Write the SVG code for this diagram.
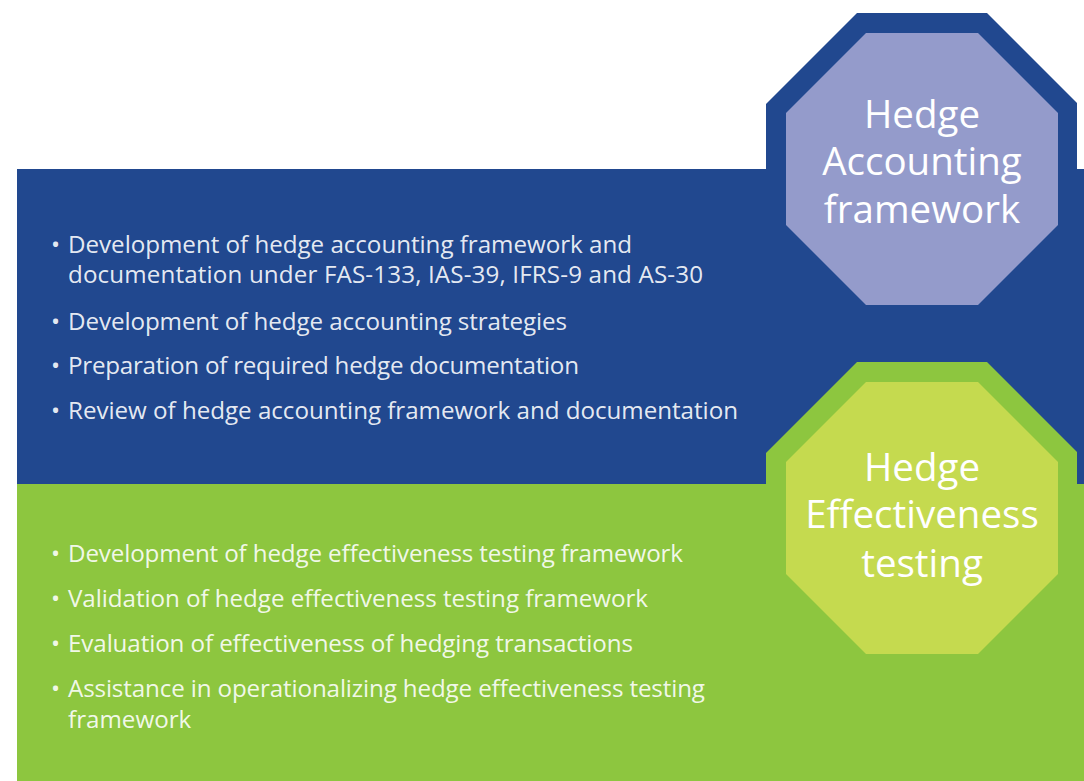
<svg xmlns="http://www.w3.org/2000/svg" width="1084" height="781" viewBox="0 0 1084 781">
  <style>
    .blue { fill: #21488F; }
    .green { fill: #8DC63F; }
    .purple { fill: #949BCB; }
    .lime { fill: #C5DA4F; }
    .item { font-family: "Open Sans", "Liberation Sans", sans-serif; font-size: 24.2px; fill: #FFFFFF; fill-opacity: 0.9; }
    .title { font-family: "Open Sans", "Liberation Sans", sans-serif; font-size: 38.5px; fill: #FFFFFF; text-anchor: middle; }
  </style>
  <rect x="0" y="0" width="1084" height="781" fill="#FFFFFF"/>

  <g id="band-accounting">
    <rect class="blue" x="17" y="169" width="1067" height="315"/>
    <polygon class="blue" points="857,13 987,13 1077,103 1077,300 766,300 766,104"/>
    <text class="item" x="51" y="252.7">•</text>
    <text class="item" x="68" y="252.7" textLength="564" lengthAdjust="spacing">Development of hedge accounting framework and</text>
    <text class="item" x="68" y="283.3" textLength="635" lengthAdjust="spacing">documentation under FAS-133, IAS-39, IFRS-9 and AS-30</text>
    <text class="item" x="51" y="330">•</text>
    <text class="item" x="68" y="330" textLength="499" lengthAdjust="spacing">Development of hedge accounting strategies</text>
    <text class="item" x="51" y="374">•</text>
    <text class="item" x="68" y="374" textLength="511" lengthAdjust="spacing">Preparation of required hedge documentation</text>
    <text class="item" x="51" y="419">•</text>
    <text class="item" x="68" y="419" textLength="670" lengthAdjust="spacing">Review of hedge accounting framework and documentation</text>
  </g>

  <g id="band-effectiveness">
    <rect class="green" x="17" y="484" width="1067" height="297"/>
    <polygon class="green" points="857,362 987,362 1077,452 1077,500 766,500 766,453"/>
    <text class="item" x="51" y="561.7">•</text>
    <text class="item" x="68" y="561.7" textLength="615" lengthAdjust="spacing">Development of hedge effectiveness testing framework</text>
    <text class="item" x="51" y="606.7">•</text>
    <text class="item" x="68" y="606.7" textLength="580" lengthAdjust="spacing">Validation of hedge effectiveness testing framework</text>
    <text class="item" x="51" y="651.7">•</text>
    <text class="item" x="68" y="651.7" textLength="565" lengthAdjust="spacing">Evaluation of effectiveness of hedging transactions</text>
    <text class="item" x="51" y="696.7">•</text>
    <text class="item" x="68" y="696.7" textLength="637" lengthAdjust="spacing">Assistance in operationalizing hedge effectiveness testing</text>
    <text class="item" x="68" y="728.3">framework</text>
  </g>

  <g id="node-accounting">
    <polygon class="purple" points="866,33 978,33 1058,113 1058,225 978,305 866,305 786,225 786,113"/>
    <text class="title" x="922" y="128">Hedge</text>
    <text class="title" x="922" y="175">Accounting</text>
    <text class="title" x="922" y="223">framework</text>
  </g>

  <g id="node-effectiveness">
    <polygon class="lime" points="866,382 978,382 1058,462 1058,574 978,654 866,654 786,574 786,462"/>
    <text class="title" x="922" y="481">Hedge</text>
    <text class="title" x="922" y="528">Effectiveness</text>
    <text class="title" x="922" y="577">testing</text>
  </g>

  <g id="connectors"></g>
</svg>
